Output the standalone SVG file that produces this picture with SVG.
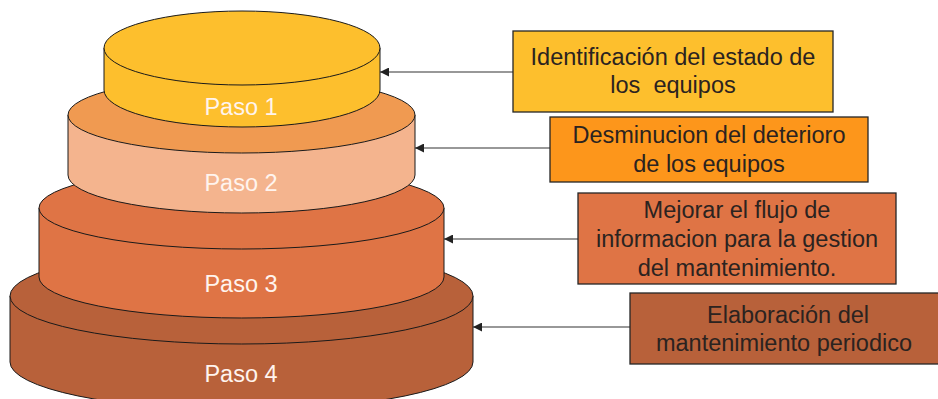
<svg xmlns="http://www.w3.org/2000/svg" width="938" height="399" viewBox="0 0 938 399">
<style>
.cyl{stroke:#1a1a1a;stroke-width:1}
.paso{font-family:"Liberation Sans",Arial,sans-serif;font-size:23.5px;fill:#fff4ee;text-anchor:middle}
.box{stroke:#262626;stroke-width:1.3}
.lbl{font-family:"Liberation Sans",Arial,sans-serif;font-size:23.5px;fill:#2b2320;text-anchor:middle}
.conn{stroke:#333;stroke-width:1.2;fill:none;marker-end:url(#arr)}
</style>
<defs>
<marker id="arr" viewBox="0 0 10 10" refX="10" refY="5" markerWidth="9" markerHeight="9" markerUnits="userSpaceOnUse" orient="auto">
<path d="M0,0 L10,5 L0,10 z" fill="#222"/>
</marker>
</defs>
<rect width="938" height="399" fill="#fff"/>
<g id="paso4">
<path class="cyl" fill="#b8613a" d="M10,296 L10,362 A231.5,48 0 0 0 473,362 L473,296 Z"/>
<ellipse class="cyl" fill="#b8613a" cx="241.5" cy="296" rx="231.5" ry="48"/>
<text class="paso" x="241" y="382">Paso 4</text>
</g>
<g id="paso3">
<path class="cyl" fill="#df7445" d="M39,208 L39,277 A202.5,41 0 0 0 444,277 L444,208 Z"/>
<ellipse class="cyl" fill="#df7445" cx="241.5" cy="208" rx="202.5" ry="41"/>
<text class="paso" x="241" y="292">Paso 3</text>
</g>
<g id="paso2">
<path class="cyl" fill="#f4b48e" d="M68,115 L68,175 A173.5,38 0 0 0 415,175 L415,115 Z"/>
<ellipse class="cyl" fill="#f09a51" cx="241.5" cy="115" rx="173.5" ry="38"/>
<text class="paso" x="241" y="191">Paso 2</text>
</g>
<g id="paso1">
<path class="cyl" fill="#fdbf2d" d="M104,48 L104,90 A138,37 0 0 0 380,90 L380,48 Z"/>
<ellipse class="cyl" fill="#fdbf2d" cx="242" cy="48" rx="138" ry="37"/>
<text class="paso" x="241" y="115">Paso 1</text>
</g>
<g id="connectors">
<line class="conn" x1="513" y1="72" x2="380" y2="72"/>
<line class="conn" x1="550" y1="148" x2="415" y2="148"/>
<line class="conn" x1="578" y1="239" x2="444" y2="239"/>
<line class="conn" x1="630" y1="327" x2="473" y2="327"/>
</g>
<g id="box1">
<rect class="box" x="513" y="31" width="320" height="81" fill="#fdbf2d"/>
<text class="lbl" x="673" y="65">Identificación del estado de</text>
<text class="lbl" x="673" y="93" xml:space="preserve">los  equipos</text>
</g>
<g id="box2">
<rect class="box" x="550" y="117" width="318" height="65" fill="#fd961b"/>
<text class="lbl" x="709" y="143">Desminucion del deterioro</text>
<text class="lbl" x="709" y="172">de los equipos</text>
</g>
<g id="box3">
<rect class="box" x="578" y="193" width="318" height="91" fill="#df7445"/>
<text class="lbl" x="737" y="218">Mejorar el flujo de</text>
<text class="lbl" x="737" y="247">informacion para la gestion</text>
<text class="lbl" x="737" y="276">del mantenimiento.</text>
</g>
<g id="box4">
<rect class="box" x="630" y="293" width="312" height="71" fill="#b8613a"/>
<text class="lbl" x="788" y="323">Elaboración del</text>
<text class="lbl" x="784" y="351">mantenimiento periodico</text>
</g>
</svg>
